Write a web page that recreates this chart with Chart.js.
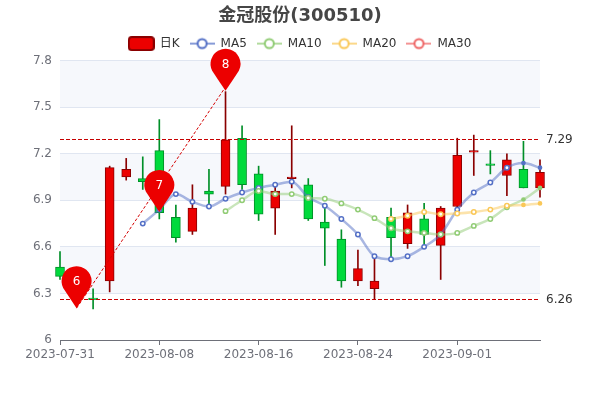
<!DOCTYPE html>
<html>
<head>
<meta charset="utf-8">
<style>html,body{margin:0;padding:0;background:#fff}canvas{display:block}</style>
<script src="https://cdn.jsdelivr.net/npm/chart.js@4/dist/chart.umd.min.js"></script>
</head>
<body>
<canvas id="kline" width="600" height="400"></canvas>
<script>
// 金冠股份 daily K chart. (idx 1 sits under a pin, so it is a guess).
const dates = ['2023-07-31','2023-08-01','2023-08-02','2023-08-03','2023-08-04','2023-08-07','2023-08-08','2023-08-09','2023-08-10','2023-08-11',
  '2023-08-14','2023-08-15','2023-08-16','2023-08-17','2023-08-18','2023-08-21','2023-08-22','2023-08-23','2023-08-24','2023-08-25',
  '2023-08-28','2023-08-29','2023-08-30','2023-08-31','2023-09-01','2023-09-04','2023-09-05','2023-09-06','2023-09-07','2023-09-08'];
const open  = [6.47,6.33,6.27,6.38,7.05,7.04,7.22,6.79,6.70,6.96,6.99,7.30,7.07,6.85,7.04,7.00,6.76,6.65,6.38,6.33,6.79,6.62,6.78,6.61,6.86,7.21,7.135,7.06,7.10,6.98];
const close = [6.41,6.36,6.26,7.11,7.10,7.02,6.82,6.66,6.85,6.94,7.29,7.00,6.81,6.96,7.05,6.78,6.72,6.38,6.46,6.38,6.66,6.82,6.68,6.85,7.19,7.22,7.125,7.16,6.98,7.08];
const low   = [6.39,6.30,6.20,6.31,7.03,6.97,6.78,6.63,6.68,6.86,6.94,6.97,6.77,6.68,6.98,6.77,6.48,6.34,6.35,6.26,6.51,6.59,6.61,6.39,6.83,7.06,7.07,6.93,6.98,6.92];
const high  = [6.57,6.38,6.33,7.12,7.17,7.18,7.42,6.87,7.00,7.10,7.60,7.38,7.12,6.99,7.38,7.04,6.87,6.71,6.58,6.52,6.85,6.87,6.88,6.86,7.30,7.32,7.22,7.20,7.28,7.16];
const ma5  = [null,null,null,null,null,6.75,6.84,6.94,6.89,6.86,6.91,6.95,6.98,7.00,7.02,6.92,6.865,6.78,6.68,6.54,6.52,6.54,6.60,6.68,6.84,6.95,7.015,7.11,7.14,7.11];
const ma10 = [null,null,null,null,null,null,null,null,null,null,6.83,6.90,6.96,6.94,6.94,6.915,6.91,6.88,6.84,6.785,6.72,6.70,6.69,6.68,6.69,6.735,6.78,6.855,6.905,6.98];
const ma20 = [null,null,null,null,null,null,null,null,null,null,null,null,null,null,null,null,null,null,null,null,6.78,6.80,6.825,6.81,6.815,6.825,6.84,6.865,6.87,6.88];
const ma30 = [];
const pins = [null,6.205,null,null,null,null,6.825,null,null,null,7.605];
const pinLabels = ['6','7','8'];
const pinLink = [null,6.205,null,null,null,null,null,null,null,null,7.63];
const markValues = [7.29,6.26];
const yBands = [[7.5,7.8],[6.9,7.2],[6.3,6.6]];

const FONT = '"DejaVu Sans","Noto Sans CJK SC",sans-serif';
const UP = '#ec0000', UP_EDGE = '#8a0000', DOWN = '#00da3c', DOWN_EDGE = '#008f28';
const rising = open.map((o, i) => close[i] >= o);

// legend symbols, canvas images so the built-in legend can draw them
function lineSymbol(color) {
  const c = document.createElement('canvas');
  c.width = 25; c.height = 14;
  const g = c.getContext('2d');
  g.strokeStyle = color; g.globalAlpha = 0.7; g.lineWidth = 2;
  g.beginPath(); g.moveTo(0, 7); g.lineTo(25, 7); g.stroke();
  g.globalAlpha = 1; g.fillStyle = '#fff';
  g.beginPath(); g.arc(12.5, 7, 4.5, 0, Math.PI * 2); g.fill(); g.stroke();
  return c;
}
function candleSymbol() {
  const c = document.createElement('canvas');
  c.width = 27; c.height = 15;
  const g = c.getContext('2d');
  g.fillStyle = UP; g.strokeStyle = UP_EDGE; g.lineWidth = 2;
  g.beginPath(); g.roundRect(1, 1, 25, 13, 3); g.fill(); g.stroke();
  return c;
}

function lineSet(label, data, color, order) {
  return {
    type: 'line', label, data, order, clip: false,
    borderColor: color + '80', borderWidth: 2.5, cubicInterpolationMode: 'monotone',
    pointStyle: 'circle', pointBorderColor: color, pointBorderWidth: 1.5,
    // the last two points are drawn smaller and filled in the reference
    pointBackgroundColor: (c) => (c.dataIndex >= 28 ? color : '#fff'),
    pointRadius: (c) => (c.dataIndex >= 28 ? 1.6 : 2.2),
  };
}

const bandPlugin = {
  id: 'bands',
  beforeDraw(chart) {
    const { ctx, chartArea: a, scales: { y } } = chart;
    ctx.save();
    ctx.fillStyle = '#f6f8fc';
    yBands.forEach(([lo, hi]) => {
      ctx.fillRect(a.left, y.getPixelForValue(hi), a.width, y.getPixelForValue(lo) - y.getPixelForValue(hi));
    });
    ctx.restore();
  },
};

// dashed max / min lines with their value at the right, then the pins on top
const markPlugin = {
  id: 'marks',
  afterDatasetsDraw(chart) {
    const { ctx, chartArea: a, scales: { y } } = chart;
    ctx.save();
    ctx.font = '12px ' + FONT;
    ctx.textBaseline = 'middle';
    markValues.forEach((v) => {
      const py = Math.round(y.getPixelForValue(v)) - 0.5;
      ctx.strokeStyle = '#c60000'; ctx.lineWidth = 1; ctx.setLineDash([4, 2]);
      ctx.beginPath(); ctx.moveTo(a.left, py); ctx.lineTo(a.right, py); ctx.stroke();
      ctx.setLineDash([]);
      ctx.fillStyle = '#333';
      ctx.fillText(v.toFixed(2), a.right + 6, py + 0.5);
    });
    const pts = chart.getDatasetMeta(chart.data.datasets.findIndex((d) => d.label === 'pins')).data
      .filter((p) => !p.skip);
    pts.forEach((p, i) => {
      const r = 15, cx = p.x, cy = p.y - 27;
      ctx.fillStyle = UP;
      ctx.beginPath();
      ctx.arc(cx, cy, r, Math.PI * 0.85, Math.PI * 0.15);
      ctx.quadraticCurveTo(cx + 6, cy + r + 3, cx, p.y);
      ctx.quadraticCurveTo(cx - 6, cy + r + 3, cx - r * Math.cos(Math.PI * 0.15), cy + r * Math.sin(Math.PI * 0.15));
      ctx.fill();
      ctx.fillStyle = '#fff';
      ctx.textAlign = 'center';
      ctx.fillText(pinLabels[i], cx, cy + 1);
      ctx.textAlign = 'left';
    });
    ctx.restore();
  },
};

new Chart(document.getElementById('kline'), {
  type: 'bar',
  plugins: [bandPlugin, markPlugin],
  data: {
    labels: dates,
    datasets: [
      { label: 'wick', data: low.map((l, i) => [l, high[i]]), order: 6, grouped: false, clip: false,
        barThickness: 1, backgroundColor: rising.map((u) => (u ? UP_EDGE : DOWN_EDGE)), borderWidth: 0 },
      { label: '日K', data: open.map((o, i) => [o, close[i]]), order: 5, grouped: false, clip: false,
        barThickness: 9, backgroundColor: rising.map((u) => (u ? UP : DOWN)),
        borderColor: rising.map((u) => (u ? UP_EDGE : DOWN_EDGE)), borderWidth: 1, borderSkipped: false, minBarLength: 1.5 },
      lineSet('MA5', ma5, '#5470c6', 4),
      lineSet('MA10', ma10, '#91cc75', 3),
      lineSet('MA20', ma20, '#fac858', 2),
      lineSet('MA30', ma30, '#ee6666', 1),
      { type: 'line', label: 'link', data: pinLink, order: 0, spanGaps: true, clip: false,
        borderColor: '#d40000', borderWidth: 1, borderDash: [3, 2], pointRadius: 0 },
      { type: 'line', label: 'pins', data: pins, order: 0, showLine: false, pointRadius: 0 },
    ],
  },
  options: {
    responsive: false,
    animation: false,
    events: [],
    layout: { padding: { top: 6 } },
    plugins: {
      tooltip: { enabled: false },
      title: {
        display: true, text: '金冠股份(300510)', color: '#464646',
        font: { family: FONT, size: 18, weight: 'bold' }, padding: { top: 0, bottom: 0 },
      },
      legend: {
        display: true, position: 'top',
        labels: {
          usePointStyle: true, pointStyleWidth: 25, boxHeight: 14, padding: 10, color: '#333',
          font: { family: FONT, size: 12 },
          generateLabels: () => [
            { text: '日K', pointStyle: candleSymbol(), lineWidth: 0, fontColor: '#333' },
            { text: 'MA5', pointStyle: lineSymbol('#5470c6'), lineWidth: 0, fontColor: '#333' },
            { text: 'MA10', pointStyle: lineSymbol('#91cc75'), lineWidth: 0, fontColor: '#333' },
            { text: 'MA20', pointStyle: lineSymbol('#fac858'), lineWidth: 0, fontColor: '#333' },
            { text: 'MA30', pointStyle: lineSymbol('#ee6666'), lineWidth: 0, fontColor: '#333' },
          ],
        },
      },
    },
    scales: {
      x: {
        type: 'category', offset: false,
        grid: { offset: false, drawOnChartArea: false, tickLength: 5, tickColor: '#6e7079' },
        border: { color: '#6e7079' },
        afterBuildTicks: (axis) => { axis.ticks = axis.ticks.filter((t, i) => i % 6 === 0); },
        afterFit: (axis) => { axis.height = 60; },
        ticks: {
          autoSkip: false, maxRotation: 0, color: '#6e7079', padding: 3,
          font: { family: FONT, size: 12 },
          callback(v) { return this.getLabelForValue(v); },
        },
      },
      // empty axis, 1px spacer between legend and plot
      xTop: {
        type: 'category', position: 'top',
        grid: { display: false }, border: { display: false }, ticks: { display: false },
        afterFit: (axis) => { axis.height = 1; },
      },
      y: {
        type: 'linear', min: 6, max: 7.8,
        grid: { color: '#e0e6f1', drawTicks: false },
        border: { display: false },
        afterFit: (axis) => { axis.width = 60; },
        ticks: {
          stepSize: 0.3, color: '#6e7079', padding: 8,
          font: { family: FONT, size: 12 },
          callback: (v) => String(Number(v.toFixed(1))),
        },
      },
      // empty axis, only keeps the right margin so title and legend stay centred on the page
      yRight: {
        type: 'linear', position: 'right',
        grid: { display: false }, border: { display: false }, ticks: { display: false },
        afterFit: (axis) => { axis.width = 60; },
      },
    },
  },
});
</script>
</body>
</html>
